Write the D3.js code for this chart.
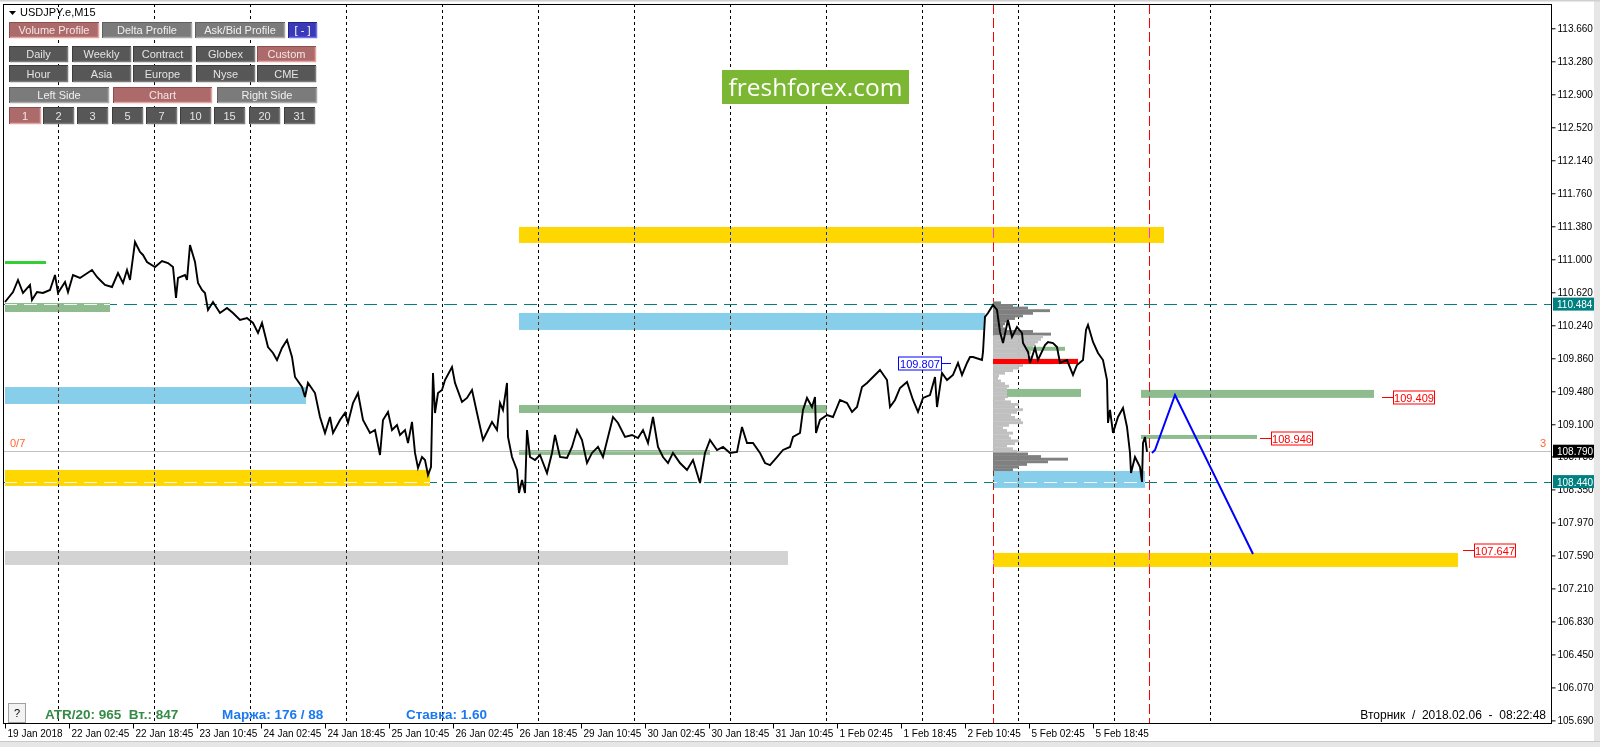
<!DOCTYPE html>
<html><head><meta charset="utf-8">
<script src="https://cdn.jsdelivr.net/npm/d3@7"></script>
<style>
html,body{margin:0;padding:0;background:#fff;overflow:hidden;}
svg{display:block;font-family:"Liberation Sans",Arial,sans-serif;}
</style></head><body>
<svg id="c" width="1600" height="747"></svg>
<script>
// ---------------- DATA ----------------
const symbolTitle = "USDJPY.e,M15";
// price axis tick labels
const priceTicks = [113.660,113.280,112.900,112.520,112.140,111.760,111.380,111.000,110.620,110.240,109.860,109.480,109.100,108.730,108.350,107.970,107.590,107.210,106.830,106.450,106.070,105.690];
// time axis: bar index (M15 bars from first visible bar) and labels
const timeTickBars = [0,64,128,192,256,320,384,448,512,576,640,704,768,832,896,960,1024,1088];
const timeTickLabels = ["19 Jan 2018","22 Jan 02:45","22 Jan 18:45","23 Jan 10:45","24 Jan 02:45","24 Jan 18:45","25 Jan 10:45","26 Jan 02:45","26 Jan 18:45","29 Jan 10:45","30 Jan 02:45","30 Jan 18:45","31 Jan 10:45","1 Feb 02:45","1 Feb 18:45","2 Feb 10:45","5 Feb 02:45","5 Feb 18:45"];
// day separators (bar index of 00:00 of each day)
const daySeparatorBars = [53,149,245,341,437,533,629,725,821,917,1013,1109,1205];
// profile range boundaries (red vertical lines)
const profileBounds = [988,1144];
// close price series [bar, price]
const priceSeries = [[0,110.508],[8,110.623],[13,110.762],[18,110.612],[25,110.704],[27,110.531],[32,110.623],[38,110.612],[45,110.647],[50,110.819],[53,110.612],[60,110.739],[63,110.623],[68,110.819],[75,110.785],[87,110.877],[92,110.796],[95,110.762],[100,110.704],[107,110.681],[113,110.842],[118,110.727],[122,110.877],[125,110.762],[130,111.199],[135,111.084],[138,111.050],[142,110.969],[150,110.911],[157,110.980],[163,110.957],[168,110.911],[171,110.554],[173,110.785],[180,110.819],[182,110.762],[185,111.165],[190,110.969],[193,110.727],[197,110.647],[200,110.612],[203,110.416],[208,110.508],[215,110.382],[222,110.439],[228,110.382],[235,110.301],[242,110.324],[248,110.267],[253,110.151],[257,110.267],[263,109.990],[268,109.921],[272,109.840],[277,109.979],[282,110.071],[287,109.875],[290,109.645],[297,109.530],[300,109.414],[303,109.576],[310,109.460],[315,109.184],[320,109.000],[325,109.184],[328,109.000],[335,109.150],[340,109.230],[343,109.115],[348,109.345],[353,109.460],[358,109.150],[365,109.000],[370,109.034],[375,108.746],[378,109.150],[383,109.242],[387,109.034],[392,109.092],[395,108.977],[400,109.034],[403,108.885],[407,109.127],[410,108.770],[413,108.597],[417,108.723],[420,108.689],[423,108.516],[426,108.608],[428,109.691],[430,109.230],[433,109.460],[437,109.495],[440,109.610],[447,109.760],[450,109.576],[457,109.357],[462,109.403],[467,109.495],[472,109.230],[478,108.919],[483,109.034],[487,109.127],[492,109.034],[495,109.345],[498,109.265],[502,109.576],[503,108.954],[507,108.723],[512,108.574],[514,108.309],[517,108.459],[520,108.309],[522,109.034],[525,108.723],[530,108.689],[535,108.746],[542,108.539],[547,108.770],[550,108.977],[555,108.723],[562,108.712],[567,108.839],[572,109.034],[577,108.919],[582,108.654],[587,108.770],[593,108.839],[598,108.723],[603,108.954],[608,109.184],[613,109.115],[620,108.954],[627,108.977],[633,108.942],[638,109.034],[643,108.885],[648,109.184],[653,108.839],[658,108.723],[663,108.654],[668,108.770],[675,108.654],[682,108.574],[688,108.689],[695,108.424],[700,108.770],[705,108.919],[712,108.804],[718,108.839],[725,108.770],[732,108.781],[737,109.069],[742,108.885],[748,108.885],[755,108.770],[760,108.654],[765,108.631],[772,108.723],[778,108.804],[785,108.839],[788,108.954],[795,109.000],[798,109.265],[802,109.403],[807,109.299],[810,109.414],[811,109.000],[815,109.150],[822,109.207],[828,109.184],[835,109.380],[842,109.345],[847,109.242],[852,109.299],[857,109.530],[862,109.576],[868,109.645],[875,109.725],[882,109.610],[885,109.299],[890,109.380],[895,109.518],[902,109.587],[908,109.380],[913,109.242],[918,109.403],[925,109.437],[930,109.645],[932,109.299],[937,109.691],[942,109.610],[948,109.668],[953,109.806],[957,109.668],[962,109.806],[965,109.875],[968,109.875],[977,109.840],[978,109.933],[980,110.336],[983,110.382],[988,110.474],[992,110.416],[995,110.163],[998,110.036],[1003,110.301],[1007,110.105],[1012,110.220],[1017,110.151],[1018,110.036],[1023,109.933],[1025,109.806],[1030,109.979],[1033,109.840],[1040,110.013],[1043,110.048],[1048,110.036],[1052,109.990],[1055,109.806],[1062,109.840],[1068,109.668],[1072,109.783],[1078,109.840],[1081,110.186],[1083,110.244],[1088,110.048],[1093,109.921],[1098,109.840],[1102,109.610],[1103,109.115],[1105,109.265],[1108,109.000],[1113,109.184],[1118,109.288],[1122,109.069],[1125,108.770],[1126,108.539],[1130,108.723],[1135,108.608],[1137,108.436],[1138,108.885],[1140,108.954],[1142,108.781]];
// forecast path [bar, price]
const forecastPath = [[1147,108.770],[1150,108.804],[1170,109.437],[1248,107.606]];
// zones: [barStart, barEnd, priceTop, priceBottom, colour]
const zones = [
  [514,1159,111.372,111.188,"#ffd700"],
  [514,980,110.382,110.186,"#87ceeb"],
  [0,105,110.497,110.393,"#8fbc8f"],
  [0,41,110.980,110.946,"#32cd32"],
  [0,301,109.529,109.334,"#87ceeb"],
  [0,425,108.574,108.390,"#ffd700"],
  [0,783,107.641,107.480,"#d3d3d3"],
  [514,822,109.322,109.230,"#8fbc8f"],
  [514,705,108.804,108.747,"#8fbc8f"],
  [988,1140,108.563,108.367,"#87ceeb"],
  [1136,1369,109.496,109.404,"#8fbc8f"],
  [1136,1252,108.977,108.931,"#8fbc8f"],
  [988,1453,107.618,107.457,"#ffd700"]
];
// volume profile levels (price) and volumes
const profileStartBar = 988;
const profilePrices = d3.range(65).map(i => +(110.50 - i*0.03).toFixed(2));
const profileVolumes = [8,20,35,57,40,30,22,15,12,10,12,40,58,50,48,45,42,40,36,38,34,40,85,60,30,26,20,12,6,5,8,12,16,14,20,18,15,12,18,26,22,30,24,18,22,28,30,16,10,14,20,16,18,26,22,14,20,24,35,48,75,55,34,26,20];
// profile levels drawn over profile: [barStart, barEnd, priceTop, priceBottom, colour]
const profileMarks = [
  [1002,1076,109.507,109.415,"#8fbc8f"],
  [1022,1060,109.992,109.946,"#8fbc8f"],
  [988,1073,109.852,109.794,"#ff0000"]
];
// horizontal levels
const dashedLevels = [110.484,108.440];
const bidPrice = 108.790;
// price labels: [bar, price, text, colour]
const priceLabels = [[1377,109.409,"109.409","#ff0000"],[1255,108.946,"108.946","#ff0000"],[1458,107.647,"107.647","#ff0000"]];
const blueLabel = [893,109.807,"109.807","#0000ff"];
// buttons
const btnRow1 = ["Volume Profile","Delta Profile","Ask/Bid Profile","[ - ]"];
const btnRow2 = ["Daily","Weekly","Contract","Globex","Custom"];
const btnRow3 = ["Hour","Asia","Europe","Nyse","CME"];
const btnRow4 = ["Left Side","Chart","Right Side"];
const btnRow5 = ["1","2","3","5","7","10","15","20","31"];
const infoTexts = [["ATR/20: 965  Вт.: 847","#358a45"],["Маржа: 176 / 88","#1a78f0"],["Ставка: 1.60","#1a78f0"]];
const clockText = "Вторник  /  2018.02.06  -  08:22:48";

// ---------------- DRAW ----------------
const svg = d3.select("#c");
const L=4, T=4, R=1551, B=723;
const x = d3.scaleLinear().domain([0,1546]).range([5,1551]);
const y = d3.scaleLinear().domain([105.690,113.660]).range([720.4,28.3]);

svg.append("rect").attr("width",1600).attr("height",747).attr("fill","#ffffff");
// outer gray strips
svg.append("rect").attr("x",1594).attr("y",0).attr("width",6).attr("height",747).attr("fill","#e6e6e6");
svg.append("rect").attr("x",0).attr("y",741).attr("width",1600).attr("height",6).attr("fill","#e6e6e6");
svg.append("line").attr("x1",0).attr("x2",1600).attr("y1",741.5).attr("y2",741.5).attr("stroke","#c8c8c8");
svg.append("rect").attr("x",0).attr("y",0).attr("width",1600).attr("height",1.5).attr("fill","#d0d0d0");

const plot = svg.append("g");
// day separators
plot.selectAll(".sep").data(daySeparatorBars).join("line")
  .attr("x1",d=>x(d)+0.5).attr("x2",d=>x(d)+0.5).attr("y1",T).attr("y2",B)
  .attr("stroke","#000").attr("stroke-dasharray","3,3").attr("stroke-width",1);
// profile bounds (red dashed)
plot.selectAll(".pb").data(profileBounds).join("line")
  .attr("x1",d=>x(d)+0.5).attr("x2",d=>x(d)+0.5).attr("y1",T).attr("y2",B)
  .attr("stroke","#ff0000").attr("stroke-dasharray","10,4").attr("stroke-width",1);

// zones with XOR-like blend
const inv = c => { const k=d3.rgb(c); return d3.rgb(255-k.r,255-k.g,255-k.b).formatHex(); };
plot.append("g").selectAll("rect").data(zones).join("rect")
  .attr("x",d=>x(d[0])).attr("width",d=>x(d[1])-x(d[0]))
  .attr("y",d=>y(d[2])).attr("height",d=>y(d[3])-y(d[2]))
  .attr("fill",d=>inv(d[4])).style("mix-blend-mode","difference");

// clip for zones
const defs = svg.append("defs");
const cp = defs.append("clipPath").attr("id","zclip");
cp.selectAll("rect").data(zones).join("rect")
  .attr("x",d=>x(d[0])).attr("width",d=>x(d[1])-x(d[0]))
  .attr("y",d=>y(d[2])).attr("height",d=>y(d[3])-y(d[2]));

// bid line
plot.append("line").attr("x1",L).attr("x2",R).attr("y1",Math.round(y(bidPrice))+0.5).attr("y2",Math.round(y(bidPrice))+0.5)
  .attr("stroke","#c0c0c0").attr("stroke-width",1);

// teal dashed levels
plot.selectAll(".dl").data(dashedLevels).join("line")
  .attr("x1",L).attr("x2",R).attr("y1",d=>Math.round(y(d))+0.5).attr("y2",d=>Math.round(y(d))+0.5)
  .attr("stroke","#008080").attr("stroke-width",1).attr("stroke-dasharray","13,7");
plot.append("g").attr("clip-path","url(#zclip)").selectAll("line").data(dashedLevels).join("line")
  .attr("x1",L).attr("x2",R).attr("y1",d=>Math.round(y(d))+0.5).attr("y2",d=>Math.round(y(d))+0.5)
  .attr("stroke","#f4f4f4").attr("stroke-width",1).attr("stroke-dasharray","13,7");

// volume profile
const vx = d3.scaleLinear().domain([0,100]).range([0,100]);
const step = y(profilePrices[1]) - y(profilePrices[0]);
plot.append("g").selectAll("rect").data(profilePrices).join("rect")
  .attr("x",x(profileStartBar)).attr("y",d=>y(d)-step/2)
  .attr("width",(d,i)=>vx(profileVolumes[i])).attr("height",step+0.3)
  .attr("fill",(d,i)=>(i<=12||i>=58)?"#808080":"#c0c0c0");
plot.append("g").selectAll("rect").data(profileMarks).join("rect")
  .attr("x",d=>x(d[0])).attr("width",d=>x(d[1])-x(d[0]))
  .attr("y",d=>y(d[2])).attr("height",d=>y(d[3])-y(d[2]))
  .attr("fill",d=>d[4]);

// price line
const line = d3.line().x(d=>x(d[0])).y(d=>y(d[1]));
plot.append("path").datum(priceSeries).attr("d",line).attr("fill","none")
  .attr("stroke","#000").attr("stroke-width",1.9).attr("stroke-linejoin","miter");
// forecast
plot.append("path").datum(forecastPath).attr("d",line).attr("fill","none")
  .attr("stroke","#0000ff").attr("stroke-width",2);

// price labels
function priceLabel(d, lead){
  const yy = Math.round(y(d[1]))+0.5;
  const g = plot.append("g");
  if(lead==="left"){
    g.append("line").attr("x1",x(d[0])).attr("x2",x(d[0])+11).attr("y1",yy).attr("y2",yy).attr("stroke",d[3]);
    g.append("rect").attr("x",x(d[0])+11.5).attr("y",yy-6.5).attr("width",41).attr("height",13).attr("fill","#fff").attr("stroke",d[3]);
    g.append("text").attr("x",x(d[0])+32).attr("y",yy+4).attr("text-anchor","middle").attr("font-size",11).attr("fill",d[3]).text(d[2]);
  } else {
    g.append("rect").attr("x",x(d[0])+0.5).attr("y",yy-6.5).attr("width",43).attr("height",13).attr("fill","#fff").attr("stroke",d[3]);
    g.append("line").attr("x1",x(d[0])+43.5).attr("x2",x(d[0])+53).attr("y1",yy).attr("y2",yy).attr("stroke",d[3]);
    g.append("text").attr("x",x(d[0])+22).attr("y",yy+4).attr("text-anchor","middle").attr("font-size",11).attr("fill",d[3]).text(d[2]);
  }
}
priceLabels.forEach(d=>priceLabel(d,"left"));
priceLabel(blueLabel,"right");

// frame
svg.append("rect").attr("x",L-0.5).attr("y",T+0.5).attr("width",R-L+1).attr("height",B-T).attr("fill","none").attr("stroke","#000");

// right axis
const yAxis = d3.axisRight(y).tickValues(priceTicks).tickSize(4).tickPadding(2).tickFormat(d3.format(".3f"));
const ya = svg.append("g").attr("transform",`translate(${R+0.5},0)`).call(yAxis);
ya.select(".domain").remove();
ya.selectAll("text").attr("font-size",10).attr("font-family","Liberation Sans, Arial").attr("fill","#000");
ya.selectAll("line").attr("stroke","#000");

// bottom axis
const xAxis = d3.axisBottom(x).tickValues(timeTickBars).tickSize(5).tickPadding(1).tickFormat((d,i)=>timeTickLabels[i]);
const xa = svg.append("g").attr("transform",`translate(0,${B+0.5})`).call(xAxis);
xa.select(".domain").remove();
xa.selectAll("text").attr("text-anchor","start").attr("dx",2).attr("font-size",10).attr("font-family","Liberation Sans, Arial").attr("fill","#000");
xa.selectAll("line").attr("stroke","#000");

// axis value boxes (drawn over the neighbouring tick labels, as in the terminal)
function axisBox(p, bg){
  const yy = y(p);
  svg.append("rect").attr("x",R+2).attr("y",yy-6.5).attr("width",41).attr("height",13).attr("fill",bg);
  svg.append("text").attr("x",R+6).attr("y",yy+4).attr("font-size",10).attr("fill","#fff").text(d3.format(".3f")(p));
}
axisBox(dashedLevels[0],"#008080");
axisBox(bidPrice,"#000000");
axisBox(dashedLevels[1],"#008080");

// side texts
svg.append("text").attr("x",10).attr("y",447).attr("font-size",11).attr("fill","#ff6633").text("0/7");
svg.append("text").attr("x",1540).attr("y",447).attr("font-size",11).attr("fill","#ff6633").text("3");

// title
svg.append("path").attr("d","M9,11 L16,11 L12.5,15 Z").attr("fill","#000");
svg.append("text").attr("x",20).attr("y",16).attr("font-size",11).attr("fill","#000").text(symbolTitle);

// buttons
const styles = {
  rose:{fill:"#ad6a6a",hi:"#e3a3a3",lo:"#8d4d4d",text:"#f4e6e6"},
  gray:{fill:"#7b7b7b",hi:"#a9a9a9",lo:"#5f5f5f",text:"#f0f0f0"},
  dark:{fill:"#575757",hi:"#7a7a7a",lo:"#3c3c3c",text:"#e4e4e4"},
  blue:{fill:"#3a3ab8",hi:"#7070ee",lo:"#22228a",text:"#ffffff"}
};
function button(x0,y0,w,h,label,st){
  const s = styles[st];
  const g = svg.append("g");
  g.append("rect").attr("x",x0).attr("y",y0).attr("width",w).attr("height",h).attr("fill",s.fill);
  g.append("path").attr("d",`M${x0+0.5},${y0+h} V${y0+0.5} H${x0+w}`).attr("stroke",s.lo).attr("fill","none");
  g.append("path").attr("d",`M${x0+1},${y0+h-0.5} H${x0+w-0.5} V${y0+1}`).attr("stroke",s.hi).attr("stroke-width",1.5).attr("fill","none");
  g.append("text").attr("x",x0+w/2).attr("y",y0+h/2+4).attr("text-anchor","middle").attr("font-size",11).attr("fill",s.text).text(label);
}
const r1 = [[9,90,"rose"],[102,90,"gray"],[195,90,"gray"],[288,29,"blue"]];
btnRow1.forEach((t,i)=>button(r1[i][0],22,r1[i][1],16,t,r1[i][2]));
const r2x = [9,72,133,196,257];
btnRow2.forEach((t,i)=>button(r2x[i],46,59,16,t,i===4?"rose":"dark"));
btnRow3.forEach((t,i)=>button(r2x[i],65,59,17,t,"dark"));
const r4 = [[9,100,"gray"],[113,99,"rose"],[217,100,"gray"]];
btnRow4.forEach((t,i)=>button(r4[i][0],87,r4[i][1],16,t,r4[i][2]));
const r5x = [9,43,77,112,146,180,214,249,284];
btnRow5.forEach((t,i)=>button(r5x[i],107,i===0?32:31,17,t,i===0?"rose":"dark"));

// watermark
svg.append("rect").attr("x",722).attr("y",70).attr("width",187).attr("height",34).attr("fill","#7cb733");
svg.append("text").attr("x",815.5).attr("y",96).attr("text-anchor","middle").attr("font-family","Open Sans, sans-serif").attr("font-size",24.5).attr("fill","#fff").text("freshforex.com");

// bottom left info
svg.append("rect").attr("x",8.5).attr("y",703.5).attr("width",17).attr("height",19).attr("fill","#f2f2f2").attr("stroke","#a0a0a0");
svg.append("text").attr("x",17).attr("y",717).attr("text-anchor","middle").attr("font-size",11).attr("fill","#000").text("?");
const infoX = [45,222,406];
infoTexts.forEach((t,i)=>svg.append("text").attr("x",infoX[i]).attr("y",719).attr("font-size",13.5).attr("font-weight","bold").attr("fill",t[1]).style("white-space","pre").text(t[0]));
svg.append("text").attr("x",1546).attr("y",719).attr("text-anchor","end").attr("font-size",12).attr("fill","#000").style("white-space","pre").text(clockText);
</script></body></html>
